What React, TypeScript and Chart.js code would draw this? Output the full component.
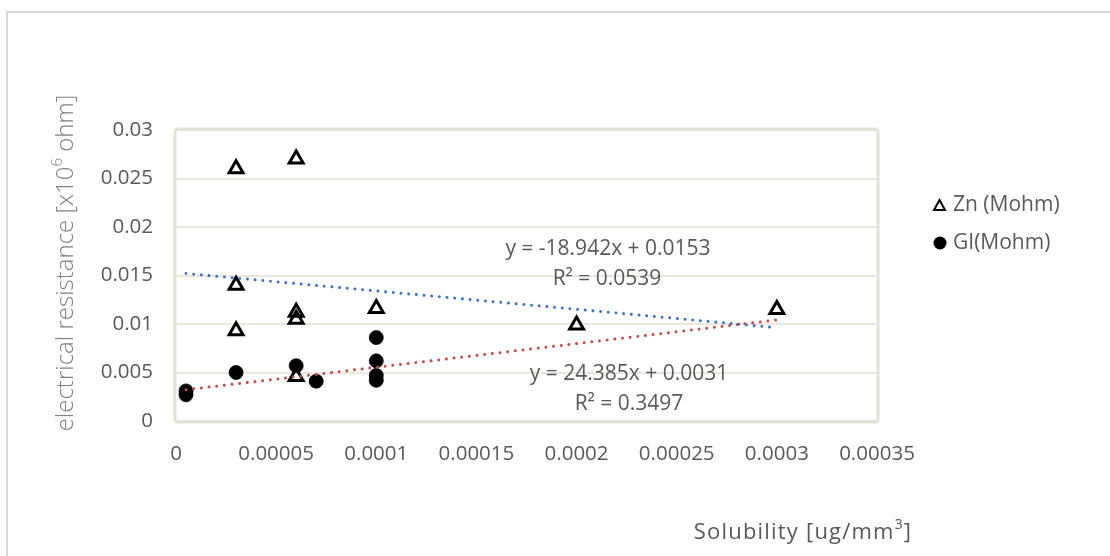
import React, { useEffect, useRef } from "react";
import { Chart, registerables } from "chart.js";

Chart.register(...registerables);

// ---- data ----
const znX = [0.00003, 0.00003, 0.00003, 0.00006, 0.00006, 0.00006, 0.00006, 0.0001, 0.0002, 0.0003];
const znY = [0.026, 0.014, 0.0093, 0.027, 0.0112, 0.0105, 0.0046, 0.0116, 0.0099, 0.0115];
const giX = [0.000005, 0.000005, 0.00003, 0.00006, 0.00007, 0.0001, 0.0001, 0.0001, 0.0001];
const giY = [0.0031, 0.0027, 0.005, 0.0057, 0.0041, 0.0086, 0.0062, 0.0047, 0.0042];
const znTrendX = [0.000005, 0.0003];
const znTrendY = [0.01521, 0.00962];
const giTrendX = [0.000005, 0.0003];
const giTrendY = [0.00322, 0.01042];
const yTicks = [0, 0.005, 0.01, 0.015, 0.02, 0.025, 0.03];
const yTickLabels = ["0", "0.005", "0.01", "0.015", "0.02", "0.025", "0.03"];
const xTicks = [0, 0.00005, 0.0001, 0.00015, 0.0002, 0.00025, 0.0003, 0.00035];
const xTickLabels = ["0", "0.00005", "0.0001", "0.00015", "0.0002", "0.00025", "0.0003", "0.00035"];
const seriesNames = ["Zn (Mohm)", "GI(Mohm)"];
const znEquation = ["y = -18.942x + 0.0153", "R² = 0.0539"];
const giEquation = ["y = 24.385x + 0.0031", "R² = 0.3497"];

const FONT = "'Open Sans', 'Noto Sans', sans-serif";
const TEXT = "#595959";
const GRID = "#E9E7DE";

function toPts(xs: number[], ys: number[]) {
  return xs.map((x, i) => ({ x, y: ys[i] }));
}

const decorPlugin = {
  id: "decor",
  beforeDatasetsDraw(chart: any) {
    const { ctx, chartArea: a } = chart;
    ctx.save();
    ctx.strokeStyle = "#E4E2D7";
    ctx.lineWidth = 3;
    ctx.beginPath();
    (ctx as any).roundRect(a.left - 1, a.top - 1, a.right - a.left + 2, a.bottom - a.top + 2, 3);
    ctx.stroke();
    ctx.restore();
  },
  afterDraw(chart: any) {
    const { ctx } = chart;
    ctx.save();
    ctx.fillStyle = TEXT;
    ctx.textBaseline = "middle";

    // y title (rotated) with superscript
    ctx.save();
    ctx.translate(66, 263);
    ctx.rotate(-Math.PI / 2);
    ctx.fillStyle = "#808080";
    const big = `300 24px ${FONT}`;
    const small = `300 15px ${FONT}`;
    const p1 = "electrical resistance [x10";
    const p2 = "6";
    const p3 = " ohm]";
    ctx.font = big;
    const w1 = ctx.measureText(p1).width;
    const w3 = ctx.measureText(p3).width;
    ctx.font = small;
    const w2 = ctx.measureText(p2).width;
    const sx = -(w1 + w2 + w3) / 2;
    ctx.textAlign = "left";
    ctx.font = big;
    ctx.fillText(p1, sx, 0);
    ctx.font = small;
    ctx.fillText(p2, sx + w1, -8);
    ctx.font = big;
    ctx.fillText(p3, sx + w1 + w2, 0);
    ctx.restore();

    // x title with superscript
    {
      ctx.save();
      (ctx as any).letterSpacing = "1.2px";
      const q1 = "Solubility [ug/mm";
      const q2 = "3";
      const q3 = "]";
      const bigF = `22px ${FONT}`;
      const smallF = `14px ${FONT}`;
      ctx.font = bigF;
      const a1 = ctx.measureText(q1).width;
      const a3 = ctx.measureText(q3).width;
      ctx.font = smallF;
      const a2 = ctx.measureText(q2).width;
      const x0 = 803 - (a1 + a2 + a3) / 2;
      ctx.textAlign = "left";
      ctx.font = bigF;
      ctx.fillText(q1, x0, 533);
      ctx.font = smallF;
      ctx.fillText(q2, x0 + a1, 525);
      ctx.font = bigF;
      ctx.fillText(q3, x0 + a1 + a2, 533);
      ctx.restore();
    }

    // legend
    ctx.font = `21px ${FONT}`;
    ctx.textAlign = "left";
    ctx.fillText(seriesNames[0], 953, 205);
    ctx.fillText(seriesNames[1], 953, 243);
    ctx.strokeStyle = "#000";
    ctx.lineWidth = 2;
    ctx.beginPath();
    ctx.moveTo(939.5, 200);
    ctx.lineTo(945, 210);
    ctx.lineTo(934, 210);
    ctx.closePath();
    ctx.stroke();
    ctx.fillStyle = "#000";
    ctx.beginPath();
    ctx.arc(940, 243, 6.5, 0, Math.PI * 2);
    ctx.fill();

    // equations
    ctx.fillStyle = TEXT;
    ctx.font = `21px ${FONT}`;
    ctx.textAlign = "center";
    ctx.fillText(znEquation[0], 608, 249);
    ctx.fillText(znEquation[1], 607, 279);
    ctx.fillText(giEquation[0], 629, 374);
    ctx.fillText(giEquation[1], 629, 404);
    ctx.restore();
  },
};

export default function App() {
  const ref = useRef<HTMLCanvasElement | null>(null);
  useEffect(() => {
    if (!ref.current) return;
    const chart = new Chart(ref.current, {
      type: "scatter",
      data: {
        datasets: [
          {
            label: "Zn trend",
            data: toPts(znTrendX, znTrendY),
            showLine: true,
            borderColor: "#4472C4",
            borderWidth: 3,
            borderDash: [0.01, 7.7],
            borderCapStyle: "round",
            pointRadius: 0,
            fill: false,
          },
          {
            label: "GI trend",
            data: toPts(giTrendX, giTrendY),
            showLine: true,
            borderColor: "#C0504D",
            borderWidth: 3,
            borderDash: [0.01, 7.7],
            borderCapStyle: "round",
            pointRadius: 0,
            fill: false,
          },
          {
            label: seriesNames[0],
            data: toPts(znX, znY),
            pointStyle: "triangle",
            pointRadius: 8,
            pointBorderWidth: 3,
            pointBorderColor: "#000",
            pointBackgroundColor: "rgba(255,255,255,0)",
          },
          {
            label: seriesNames[1],
            data: toPts(giX, giY),
            pointStyle: "circle",
            pointRadius: 7,
            pointBorderWidth: 0.8,
            pointBorderColor: "#000",
            pointBackgroundColor: "#000",
          },
        ],
      },
      options: {
        responsive: false,
        animation: false,
        devicePixelRatio: 1,
        layout: { padding: { left: 0, top: 130, right: 233, bottom: 0 } },
        plugins: { legend: { display: false }, tooltip: { enabled: false } },
        scales: {
          x: {
            type: "linear",
            min: 0,
            max: 0.00035,
            afterBuildTicks: (s: any) => {
              s.ticks = xTicks.map((v) => ({ value: v }));
            },
            afterFit: (s: any) => {
              s.height = 135;
            },
            grid: { display: false },
            border: { display: false },
            ticks: {
              callback: (_v: any, i: number) => xTickLabels[i],
              color: TEXT,
              font: { family: FONT, size: 20.5 },
              padding: 12.5,
              maxRotation: 0,
              autoSkip: false,
            },
          },
          y: {
            type: "linear",
            min: 0,
            max: 0.03,
            afterBuildTicks: (s: any) => {
              s.ticks = yTicks.map((v) => ({ value: v }));
            },
            afterFit: (s: any) => {
              s.width = 176;
            },
            grid: { color: GRID, lineWidth: 2, drawTicks: false },
            border: { display: false },
            ticks: {
              callback: (_v: any, i: number) => yTickLabels[i],
              color: TEXT,
              font: { family: FONT, size: 20.5 },
              padding: 23,
              autoSkip: false,
            },
          },
        },
      },
      plugins: [decorPlugin],
    } as any);
    return () => chart.destroy();
  }, []);

  return (
    <div style={{ position: "fixed", left: 0, top: 0, width: 1110, height: 556, overflow: "hidden", background: "#fff" }}>
      <div
        style={{
          position: "absolute",
          left: 6,
          top: 11,
          width: 1200,
          height: 700,
          border: "2px solid #D9D9D9",
          boxSizing: "border-box",
        }}
      />
      <canvas ref={ref} width={1110} height={556} style={{ position: "absolute", left: 0, top: 0, width: 1110, height: 556 }} />
    </div>
  );
}
